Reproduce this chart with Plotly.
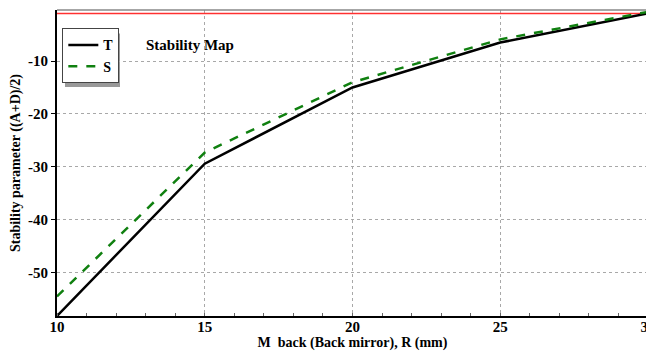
import plotly.graph_objects as go

R = [10, 15, 20, 25, 30]
T_vals = [-58.2, -29.4, -15.0, -6.5, -1.0]
S_vals = [-54.5, -27.3, -14.0, -5.9, -0.7]
limit_x = [10, 30]
limit_y = [-1, -1]
x_ticks = [10, 15, 20, 25, 30]
y_ticks = [-10, -20, -30, -40, -50]

font_family = "Liberation Serif"

fig = go.Figure()
fig.add_trace(go.Scatter(x=limit_x, y=limit_y, mode="lines",
                         line=dict(color="#ff3030", width=1.5),
                         showlegend=False, hoverinfo="skip"))
fig.add_trace(go.Scatter(x=R, y=T_vals, mode="lines", name="<b>T</b>",
                         line=dict(color="black", width=2.5)))
fig.add_trace(go.Scatter(x=R, y=S_vals, mode="lines", name="<b>S</b>",
                         line=dict(color="#108010", width=2.5, dash="dash")))

tickfont = dict(family=font_family, size=15, color="black")
titlefont = dict(family=font_family, size=14, color="black")

# the page body adds an 8px offset; size the figure to fill the 654x351 window
fig.update_layout(
    width=646, height=343,
    margin=dict(l=49, r=6, t=2, b=35),
    paper_bgcolor="white", plot_bgcolor="white",
    font=dict(family=font_family, size=13, color="black"),
    showlegend=True,
    legend=dict(x=0.009, y=0.94, xanchor="left", yanchor="top",
                bgcolor="white", bordercolor="#444", borderwidth=1,
                font=dict(size=14, family=font_family),
                tracegroupgap=0, itemwidth=30),
    xaxis=dict(range=[10, 30.0001], tickvals=x_ticks,
               ticktext=[f"<b>{v}</b>" for v in x_ticks], tickfont=tickfont,
               ticklabeloverflow="allow", ticklabelstandoff=-4,
               showgrid=True, gridcolor="#a8a8a8", griddash="dot", gridwidth=1,
               showline=True, linecolor="black", linewidth=2, mirror=False,
               ticks="", zeroline=False, automargin=False,
               minor=dict(dtick=1, ticks="inside", ticklen=3, tickcolor="#666", showgrid=False),
               title=dict(text="<b>M  back (Back mirror), R (mm)</b>", standoff=0,
                          font=titlefont)),
    yaxis=dict(range=[-58.2, -0.35], tickvals=y_ticks,
               ticktext=[f"<b>{v}</b>" for v in y_ticks], tickfont=tickfont,
               ticklabeloverflow="allow",
               showgrid=True, gridcolor="#a8a8a8", griddash="dot", gridwidth=1,
               showline=True, linecolor="black", linewidth=2,
               ticks="outside", ticklen=4, tickcolor="black", zeroline=False,
               automargin=False,
               title=dict(text="<b>Stability parameter ((A+D)/2)</b>", standoff=4,
                          font=titlefont)),
)

# gray top and right frame
fig.add_shape(type="line", xref="paper", yref="paper", x0=0, x1=1, y0=1, y1=1,
              line=dict(color="#888", width=1.5))
fig.add_shape(type="line", xref="paper", yref="paper", x0=1, x1=1, y0=0, y1=1,
              line=dict(color="#888", width=2))
# legend shadow (offset a few px right/down of the legend box)
fig.add_shape(type="rect", xref="paper", yref="paper",
              x0=0.0135, x1=0.1066, y0=0.748, y1=0.923,
              line=dict(width=0), fillcolor="#999", layer="below")

fig.add_annotation(text="<b>Stability Map</b>", xref="paper", yref="paper",
                   x=0.148, y=0.885, xanchor="left", yanchor="middle",
                   showarrow=False, font=dict(size=15, family=font_family))

fig.write_html("out.html")
